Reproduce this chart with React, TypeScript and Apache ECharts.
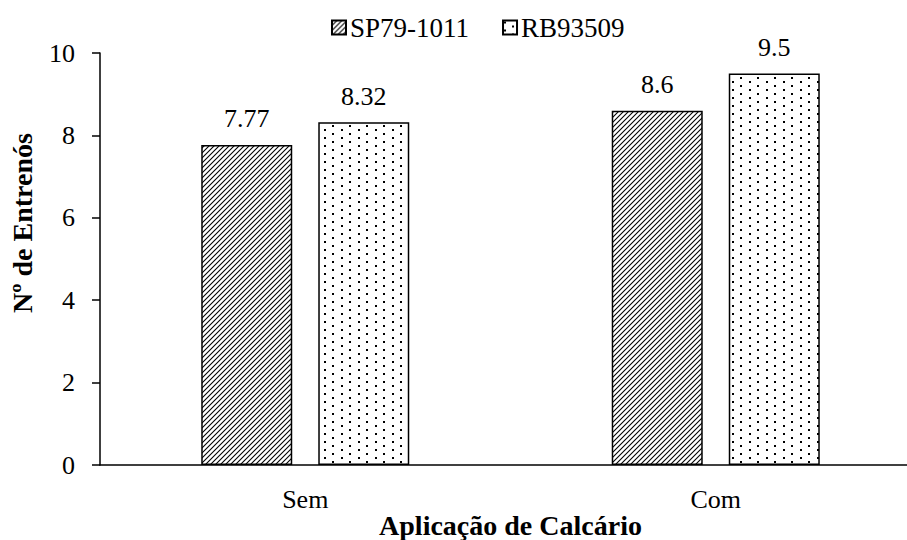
import React, { useEffect, useRef } from "react";
import * as echarts from "echarts";

const categories = ["Sem", "Com"];
const seriesNames = ["SP79-1011", "RB93509"];
const sp79Values = [7.77, 8.6];
const rb93Values = [8.32, 9.5];
const yTicks = [0, 2, 4, 6, 8, 10];

const FONT = "'Liberation Serif', serif";

function makeHatch(): HTMLCanvasElement {
  const c = document.createElement("canvas");
  c.width = 5;
  c.height = 5;
  const ctx = c.getContext("2d")!;
  ctx.fillStyle = "#fff";
  ctx.fillRect(0, 0, 5, 5);
  ctx.strokeStyle = "#000";
  ctx.lineWidth = 1.1;
  ctx.beginPath();
  ctx.moveTo(-1, 6);
  ctx.lineTo(6, -1);
  ctx.moveTo(-1, 1);
  ctx.lineTo(1, -1);
  ctx.moveTo(4, 6);
  ctx.lineTo(6, 4);
  ctx.stroke();
  return c;
}

function makeDots(): HTMLCanvasElement {
  const c = document.createElement("canvas");
  c.width = 17;
  c.height = 8;
  const ctx = c.getContext("2d")!;
  ctx.fillStyle = "#fff";
  ctx.fillRect(0, 0, 17, 8);
  ctx.fillStyle = "#000";
  ctx.fillRect(1, 1, 2, 2);
  ctx.fillRect(9, 5, 2, 2);
  return c;
}

export default function App() {
  const ref = useRef<HTMLDivElement>(null);
  useEffect(() => {
    if (!ref.current) return;
    const chart = echarts.init(ref.current, null, { renderer: "svg" });
    const hatch = { image: makeHatch(), repeat: "repeat" } as any;
    const dots = { image: makeDots(), repeat: "repeat" } as any;
    const labelCfg = {
      show: true,
      position: "top",
      distance: 13,
      color: "#000",
      fontSize: 26,
      fontFamily: FONT,
    };
    chart.setOption({
      animation: false,
      backgroundColor: "#fff",
      textStyle: { fontFamily: FONT, color: "#000" },
      legend: {
        top: 9,
        left: 326,
        itemWidth: 14,
        itemHeight: 14,
        itemGap: 33,
        icon: "rect",
        textStyle: { fontSize: 27, color: "#000", fontFamily: FONT, padding: [0, 0, 0, -1] },
        data: seriesNames,
      },
      grid: { left: 100, right: 4, top: 53, bottom: 75, containLabel: false, outerBoundsMode: "none" },
      xAxis: {
        type: "category",
        data: categories,
        axisLine: { lineStyle: { color: "#000", width: 1.5 } },
        axisTick: { show: false },
        axisLabel: { fontSize: 26, color: "#000", margin: 21, fontFamily: FONT },
        name: "Aplicação de Calcário",
        nameLocation: "middle",
        nameGap: 46,
        nameMoveOverlap: false,
        nameTextStyle: { fontSize: 28, fontWeight: "bold", color: "#000", fontFamily: FONT },
      },
      yAxis: {
        type: "value",
        min: yTicks[0],
        max: yTicks[yTicks.length - 1],
        interval: 2,
        axisLine: { show: true, lineStyle: { color: "#000", width: 1.5 } },
        axisTick: { show: true, length: 8, lineStyle: { color: "#000", width: 1.5 } },
        splitLine: { show: false },
        axisLabel: { fontSize: 26, color: "#000", margin: 25, fontFamily: FONT },
        name: "Nº de Entrenós",
        nameLocation: "middle",
        nameGap: 64,
        nameMoveOverlap: false,
        nameTextStyle: {
          fontSize: 28,
          fontWeight: "bold",
          color: "#000",
          fontFamily: FONT,
          padding: [0, 0, 0, 72],
        },
      },
      series: [
        {
          name: seriesNames[0],
          type: "bar",
          data: sp79Values,
          barWidth: 91,
          barGap: "28.6%",
          itemStyle: { color: hatch, borderColor: "#000", borderWidth: 1.5 },
          label: labelCfg,
        },
        {
          name: seriesNames[1],
          type: "bar",
          data: rb93Values,
          barWidth: 91,
          itemStyle: { color: dots, borderColor: "#000", borderWidth: 1.5 },
          label: labelCfg,
        },
      ],
    });
    return () => chart.dispose();
  }, []);
  return (
    <div style={{ position: "absolute", left: 0, top: 0, width: 907, height: 540, overflow: "hidden", background: "#fff" }}>
      <div ref={ref} style={{ width: 925, height: 540 }} />
    </div>
  );
}
